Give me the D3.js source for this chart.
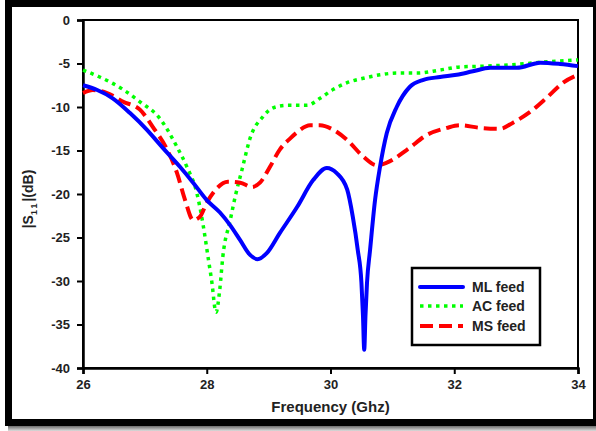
<!DOCTYPE html>
<html><head><meta charset="utf-8">
<script src="https://cdn.jsdelivr.net/npm/d3@7"></script>
<style>
html,body{margin:0;padding:0;background:#fff;}
svg text{font-family:"Liberation Sans",Arial,sans-serif;font-weight:bold;}
</style></head>
<body>
<svg id="chart" width="596" height="431"></svg>
<script>
// ---- data ----
const freqML = [26.0, 26.23, 26.48, 26.76, 27.03, 27.29, 27.57, 27.78, 28.0, 28.21, 28.38, 28.54, 28.7, 28.82, 28.97, 29.18, 29.46, 29.72, 29.94, 30.1, 30.27, 30.36, 30.44, 30.5, 30.525, 30.545, 30.565, 30.59, 30.64, 30.72, 30.8, 30.91, 31.07, 31.28, 31.49, 31.77, 32.04, 32.3, 32.58, 33.01, 33.39, 33.71, 34.0];
const mlFeed = [-7.5, -8.05, -9.0, -10.7, -12.6, -14.7, -16.9, -18.7, -20.7, -22.1, -23.6, -25.3, -27.0, -27.5, -26.8, -24.5, -21.5, -18.4, -17.0, -17.6, -19.5, -22.6, -26.4, -30.2, -34.0, -37.9, -34.0, -30.2, -26.4, -20.7, -16.9, -13.0, -10.0, -7.7, -6.9, -6.55, -6.3, -5.9, -5.5, -5.5, -4.9, -5.05, -5.3];

const freqAC = [26.0, 26.27, 26.65, 26.92, 27.24, 27.52, 27.68, 27.84, 27.94, 28.02, 28.08, 28.15, 28.21, 28.26, 28.38, 28.46, 28.57, 28.7, 28.91, 29.07, 29.3, 29.62, 29.83, 30.04, 30.27, 30.53, 30.8, 31.07, 31.4, 31.77, 32.09, 32.5, 33.0, 33.5, 34.0];
const acFeed = [-5.75, -6.55, -8.0, -9.4, -11.3, -14.6, -16.9, -19.9, -23.5, -27.2, -30.0, -33.6, -31.0, -27.2, -23.0, -20.3, -17.2, -13.6, -11.1, -10.1, -9.8, -9.8, -9.0, -8.0, -7.2, -6.7, -6.3, -6.1, -6.1, -5.75, -5.4, -5.3, -5.1, -4.8, -4.6];

const freqMS = [26.0, 26.16, 26.39, 26.65, 26.92, 27.13, 27.36, 27.52, 27.65, 27.78, 27.89, 28.0, 28.17, 28.34, 28.54, 28.73, 28.86, 29.02, 29.18, 29.35, 29.46, 29.67, 29.83, 30.04, 30.27, 30.53, 30.75, 30.91, 31.24, 31.56, 31.88, 32.09, 32.42, 32.74, 32.95, 33.22, 33.5, 33.76, 34.0];
const msFeed = [-8.4, -8.05, -8.4, -9.4, -10.3, -12.3, -14.9, -17.6, -20.7, -23.0, -22.6, -21.0, -19.3, -18.6, -18.7, -19.2, -18.7, -16.9, -14.9, -13.6, -12.9, -12.1, -12.1, -12.6, -13.8, -15.7, -16.7, -16.4, -14.9, -13.2, -12.4, -12.1, -12.4, -12.5, -11.8, -10.6, -8.9, -7.2, -6.3];

const xTicks = [26, 28, 30, 32, 34];
const yTicks = [0, -5, -10, -15, -20, -25, -30, -35, -40];
const seriesNames = ["ML feed", "AC feed", "MS feed"];

// ---- drawing ----
const svg = d3.select("#chart");
const W = 596, H = 431;
const m = {left: 83, right: 578, top: 20, bottom: 368};

// outer frame + shadow
const defs = svg.append("defs");
const g1 = defs.append("linearGradient").attr("id","shB").attr("x1",0).attr("y1",0).attr("x2",0).attr("y2",1);
g1.append("stop").attr("offset","0%").attr("stop-color","#555");
g1.append("stop").attr("offset","100%").attr("stop-color","#ddd");
svg.append("rect").attr("x",8).attr("y",425).attr("width",588).attr("height",6).attr("fill","url(#shB)");
svg.append("rect").attr("x",5).attr("y",0).attr("width",591).attr("height",7).attr("fill","#000");
svg.append("rect").attr("x",5).attr("y",0).attr("width",7).attr("height",426).attr("fill","#000");
svg.append("rect").attr("x",5).attr("y",419).attr("width",591).attr("height",7).attr("fill","#000");
svg.append("rect").attr("x",593).attr("y",0).attr("width",3).attr("height",426).attr("fill","#000");

const x = d3.scaleLinear().domain([26, 34]).range([m.left, m.right]);
const y = d3.scaleLinear().domain([-40, 0]).range([m.bottom, m.top]);

// plot box
svg.append("rect").attr("x",m.left).attr("y",m.top).attr("width",m.right-m.left).attr("height",m.bottom-m.top)
  .attr("fill","none").attr("stroke","#000").attr("stroke-width",2);

// axes
const xAxis = svg.append("g").attr("transform",`translate(0,${m.bottom})`)
  .call(d3.axisBottom(x).tickValues(xTicks).tickFormat(d3.format("d")).tickSize(6).tickPadding(6));
const yAxis = svg.append("g").attr("transform",`translate(${m.left},0)`)
  .call(d3.axisLeft(y).tickValues(yTicks).tickFormat(d => d === 0 ? "0" : "-" + Math.abs(d)).tickSize(6).tickPadding(7));
[xAxis, yAxis].forEach(a => {
  a.select(".domain").attr("stroke","#000").attr("stroke-width",2.5);
  a.selectAll(".tick line").attr("stroke","#000").attr("stroke-width",2);
  a.selectAll(".tick text").attr("fill","#222").style("font-size","13px").style("font-weight","bold")
    .style("font-family","'Liberation Sans',Arial,sans-serif");
});

// axis titles
svg.append("text").attr("x",(m.left+m.right)/2).attr("y",412).attr("text-anchor","middle")
  .attr("fill","#222").style("font-size","15px").text("Frequency (Ghz)");
const yt = svg.append("text").attr("transform","translate(33,199) rotate(-90)").attr("text-anchor","middle")
  .attr("fill","#222").style("font-size","14px");
yt.append("tspan").text("|S");
yt.append("tspan").attr("dy",4).style("font-size","9px").attr("letter-spacing","2px").text("11");
yt.append("tspan").attr("dy",-4).text("|(dB)");

// lines
const line = d3.line().x(d => x(d[0])).y(d => y(d[1])).curve(d3.curveMonotoneX);
const series = [
  {name: seriesNames[0], f: freqML, v: mlFeed, color: "#0000ff", dash: null, w: 4},
  {name: seriesNames[1], f: freqAC, v: acFeed, color: "#00ff00", dash: "3.5,4.5", w: 3.5},
  {name: seriesNames[2], f: freqMS, v: msFeed, color: "#ff0000", dash: "13,6", w: 4}
];
// draw order: AC, MS, ML on top? reference: blue over others mostly
[series[1], series[2], series[0]].forEach(s => {
  svg.append("path").datum(d3.zip(s.f, s.v)).attr("d", line)
    .attr("fill","none").attr("stroke", s.color).attr("stroke-width", s.w)
    .attr("stroke-dasharray", s.dash).attr("stroke-linejoin","round");
});

// legend
const lg = svg.append("g");
lg.append("rect").attr("x",412).attr("y",268).attr("width",128).attr("height",77)
  .attr("fill","#fff").attr("stroke","#000").attr("stroke-width",2.5);
const ly = [287, 306, 326];
series.forEach((s, i) => {
  lg.append("line").attr("x1",420).attr("x2",463).attr("y1",ly[i]).attr("y2",ly[i])
    .attr("stroke", s.color).attr("stroke-width", s.w).attr("stroke-dasharray", s.dash)
    .attr("stroke-linecap", s.dash ? "butt" : "round");
  lg.append("text").attr("x",472).attr("y",ly[i]+5).attr("fill","#222").style("font-size","14px").text(s.name);
});
</script>
</body></html>
